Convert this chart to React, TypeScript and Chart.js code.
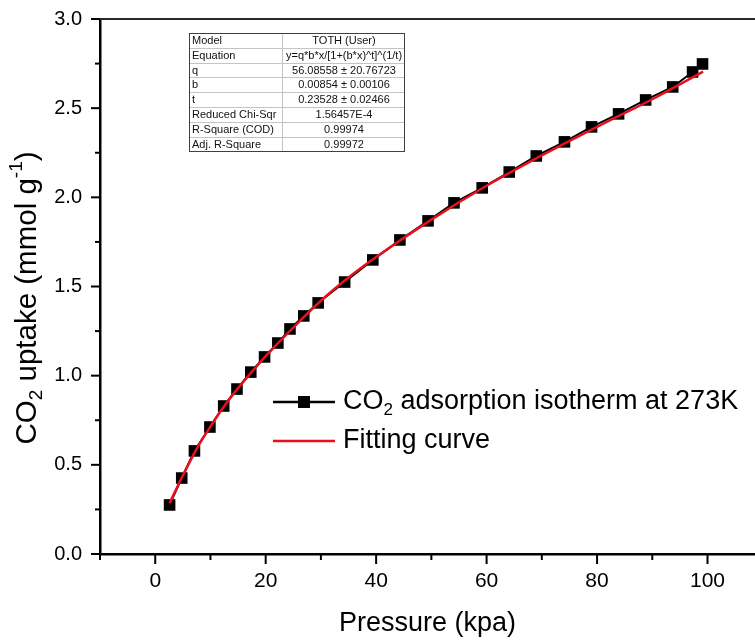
import React, { useEffect, useRef } from "react";
import { Chart, registerables } from "chart.js";

Chart.register(...registerables);

const pressure = [2.6, 4.8, 7.1, 9.9, 12.4, 14.8, 17.3, 19.8, 22.2, 24.4, 26.9, 29.5, 34.3, 39.4, 44.3, 49.4, 54.1, 59.2, 64.1, 69.0, 74.1, 79.0, 83.9, 88.8, 93.7, 97.3, 99.1];
const uptake = [0.275, 0.426, 0.578, 0.712, 0.83, 0.925, 1.02, 1.105, 1.183, 1.262, 1.335, 1.408, 1.525, 1.649, 1.761, 1.868, 1.969, 2.053, 2.142, 2.232, 2.311, 2.395, 2.468, 2.546, 2.619, 2.703, 2.748];

// Fitting curve
const fitPressure = [2.6, 5, 7.5, 10, 12.5, 15, 20, 25, 30, 35, 40, 50, 60, 70, 80, 90, 99.2];
const fitUptake = [0.285, 0.44, 0.59, 0.715, 0.83, 0.93, 1.11, 1.27, 1.42, 1.55, 1.665, 1.875, 2.065, 2.235, 2.395, 2.55, 2.705];

const xTickValues = [-10, 0, 10, 20, 30, 40, 50, 60, 70, 80, 90, 100];
const yTickValues = [0, 0.25, 0.5, 0.75, 1.0, 1.25, 1.5, 1.75, 2.0, 2.25, 2.5, 2.75, 3.0];

const seriesLabels = ["CO₂ adsorption isotherm at 273K", "Fitting curve"];
const xTitle = "Pressure (kpa)";
const yTitle = "CO₂ uptake (mmol g⁻¹)";

const tableNames = ["Model", "Equation", "q", "b", "t", "Reduced Chi-Sqr", "R-Square (COD)", "Adj. R-Square"];
const tableValues = ["TOTH (User)", "y=q*b*x/[1+(b*x)^t]^(1/t)", "56.08558 ± 20.76723", "0.00854 ± 0.00106", "0.23528 ± 0.02466", "1.56457E-4", "0.99974", "0.99972"];

const FONT = "Arial, 'Liberation Sans', sans-serif";

const SUB: Record<string, string> = { "₀": "0", "₁": "1", "₂": "2", "₃": "3", "₄": "4" };
const SUP: Record<string, string> = { "⁻": "-", "¹": "1", "²": "2", "³": "3" };

type Run = { text: string; kind: "n" | "sub" | "sup" };
function splitRuns(s: string): Run[] {
  const runs: Run[] = [];
  for (const ch of s) {
    let kind: Run["kind"] = "n";
    let c = ch;
    if (SUB[ch]) { kind = "sub"; c = SUB[ch]; }
    else if (SUP[ch]) { kind = "sup"; c = SUP[ch]; }
    const last = runs[runs.length - 1];
    if (last && last.kind === kind) last.text += c;
    else runs.push({ text: c, kind });
  }
  return runs;
}

function drawRich(ctx: CanvasRenderingContext2D, s: string, x: number, y: number, size: number, align: "left" | "center") {
  const runs = splitRuns(s);
  const small = Math.round(size * 0.64);
  ctx.textBaseline = "middle";
  ctx.textAlign = "left";
  let total = 0;
  const widths = runs.map((r) => {
    ctx.font = `${r.kind === "n" ? size : small}px ${FONT}`;
    const w = ctx.measureText(r.text).width;
    total += w;
    return w;
  });
  let cx = align === "center" ? x - total / 2 : x;
  runs.forEach((r, i) => {
    ctx.font = `${r.kind === "n" ? size : small}px ${FONT}`;
    const dy = r.kind === "sub" ? size * 0.3 : r.kind === "sup" ? -size * 0.38 : 0;
    ctx.fillText(r.text, cx, y + dy);
    cx += widths[i];
  });
}

export default function App() {
  const ref = useRef<HTMLCanvasElement>(null);

  useEffect(() => {
    document.body.style.margin = "0";
    const canvas = ref.current;
    if (!canvas) return;

    const overlay = {
      id: "overlay",
      afterDraw(chart: any) {
        const ctx: CanvasRenderingContext2D = chart.ctx;
        const xs = chart.scales.x;
        const ys = chart.scales.y;
        const area = chart.chartArea;
        ctx.save();

        // top frame line
        ctx.strokeStyle = "#2a2a2a";
        ctx.lineWidth = 2;
        ctx.beginPath();
        ctx.moveTo(area.left, area.top);
        ctx.lineTo(chart.width, area.top);
        ctx.stroke();

        // tick marks
        ctx.strokeStyle = "#000";
        ctx.lineWidth = 2;
        xTickValues.forEach((v) => {
          const px = xs.getPixelForValue(v);
          const len = v % 20 === 0 ? 10 : 6;
          ctx.beginPath();
          ctx.moveTo(px, area.bottom);
          ctx.lineTo(px, area.bottom + len);
          ctx.stroke();
        });
        yTickValues.forEach((v) => {
          const py = ys.getPixelForValue(v);
          const major = Math.abs(v * 2 - Math.round(v * 2)) < 1e-6;
          const len = major ? 9 : 5;
          ctx.beginPath();
          ctx.moveTo(area.left - len, py);
          ctx.lineTo(area.left, py);
          ctx.stroke();
        });

        // y title
        ctx.fillStyle = "#000";
        ctx.save();
        ctx.translate(28, 298);
        ctx.rotate(-Math.PI / 2);
        drawRich(ctx, yTitle, 0, 0, 29.5, "center");
        ctx.restore();

        // legend
        const legendRows = [402, 441];
        chart.data.datasets.forEach((ds: any) => {
          const idx = ds.label === seriesLabels[0] ? 0 : 1;
          const yy = legendRows[idx];
          ctx.strokeStyle = ds.borderColor;
          ctx.lineWidth = 2.5;
          ctx.beginPath();
          ctx.moveTo(273, yy);
          ctx.lineTo(335, yy);
          ctx.stroke();
          if (idx === 0) {
            ctx.fillStyle = "#000";
            ctx.fillRect(298, yy - 6, 12, 12);
          }
          ctx.fillStyle = "#000";
          drawRich(ctx, ds.label, 343, yy, 27, "left");
        });

        // parameter table
        const tx0 = 189, tx1 = 404, tcol = 282, ty0 = 33, rowH = 14.8;
        const ty1 = ty0 + rowH * tableNames.length;
        ctx.fillStyle = "#fff";
        ctx.fillRect(tx0, ty0, tx1 - tx0, ty1 - ty0);
        ctx.strokeStyle = "#c4c4c4";
        ctx.lineWidth = 1;
        for (let i = 1; i < tableNames.length; i++) {
          const yy = Math.round(ty0 + rowH * i) + 0.5;
          ctx.beginPath();
          ctx.moveTo(tx0, yy);
          ctx.lineTo(tx1, yy);
          ctx.stroke();
        }
        ctx.beginPath();
        ctx.moveTo(tcol + 0.5, ty0);
        ctx.lineTo(tcol + 0.5, ty1);
        ctx.stroke();
        ctx.strokeStyle = "#404040";
        ctx.strokeRect(tx0 + 0.5, ty0 + 0.5, tx1 - tx0, Math.round(ty1 - ty0));
        ctx.fillStyle = "#111";
        ctx.font = `11px ${FONT}`;
        ctx.textBaseline = "middle";
        tableNames.forEach((name, i) => {
          const yy = ty0 + rowH * (i + 0.5) + 0.5;
          ctx.textAlign = "left";
          ctx.fillText(name, tx0 + 3, yy);
          ctx.textAlign = "center";
          ctx.fillText(tableValues[i], (tcol + tx1) / 2 + 1, yy);
        });

        ctx.restore();
      },
    };

    const chart = new Chart(canvas, {
      type: "line",
      data: {
        datasets: [
          {
            label: seriesLabels[1],
            data: fitPressure.map((x, i) => ({ x, y: fitUptake[i] })),
            borderColor: "#e8101a",
            borderWidth: 2.5,
            pointRadius: 0,
            tension: 0.4,
            cubicInterpolationMode: "monotone",
            fill: false,
            order: 0,
          },
          {
            label: seriesLabels[0],
            data: pressure.map((x, i) => ({ x, y: uptake[i] })),
            borderColor: "#000",
            backgroundColor: "#000",
            borderWidth: 2,
            pointStyle: "rect",
            pointRadius: 8.2,
            pointBorderWidth: 0,
            pointBackgroundColor: "#000",
            tension: 0,
            fill: false,
            order: 1,
          },
        ],
      },
      options: {
        animation: false,
        responsive: true,
        maintainAspectRatio: false,
        layout: { autoPadding: false, padding: { top: 19, right: 0, left: 0, bottom: 0 } },
        plugins: {
          legend: { display: false },
          tooltip: { enabled: false },
          title: { display: false },
        },
        scales: {
          x: {
            type: "linear",
            min: -10,
            max: 108.6,
            afterBuildTicks: (scale: any) => {
              scale.ticks = xTickValues.map((v) => ({ value: v }));
            },
            afterFit: (scale: any) => {
              scale.height = 88;
              scale.paddingLeft = 0;
              scale.paddingRight = 0;
            },
            grid: { display: false, drawTicks: false },
            border: { display: true, color: "#000", width: 2.5 },
            ticks: {
              color: "#000",
              font: { size: 21, family: FONT },
              padding: 15,
              maxRotation: 0,
              autoSkip: false,
              callback: (v: any) => (Number(v) % 20 === 0 ? String(v) : ""),
            },
            title: {
              display: true,
              text: xTitle,
              color: "#000",
              font: { size: 27, family: FONT },
              padding: { top: 0, bottom: 2 },
            },
          },
          y: {
            type: "linear",
            min: 0,
            max: 3,
            afterFit: (scale: any) => {
              scale.width = 100;
              scale.paddingTop = 0;
              scale.paddingBottom = 0;
            },
            grid: { display: false, drawTicks: false },
            border: { display: true, color: "#000", width: 2.5 },
            ticks: {
              stepSize: 0.5,
              color: "#000",
              font: { size: 20, family: FONT },
              padding: 18,
              callback: (v: any) => Number(v).toFixed(1),
            },
          },
        },
      },
      plugins: [overlay],
    } as any);

    return () => chart.destroy();
  }, []);

  return (
    <div style={{ width: 755, height: 642, position: "relative", background: "#fff" }}>
      <canvas ref={ref} />
    </div>
  );
}
